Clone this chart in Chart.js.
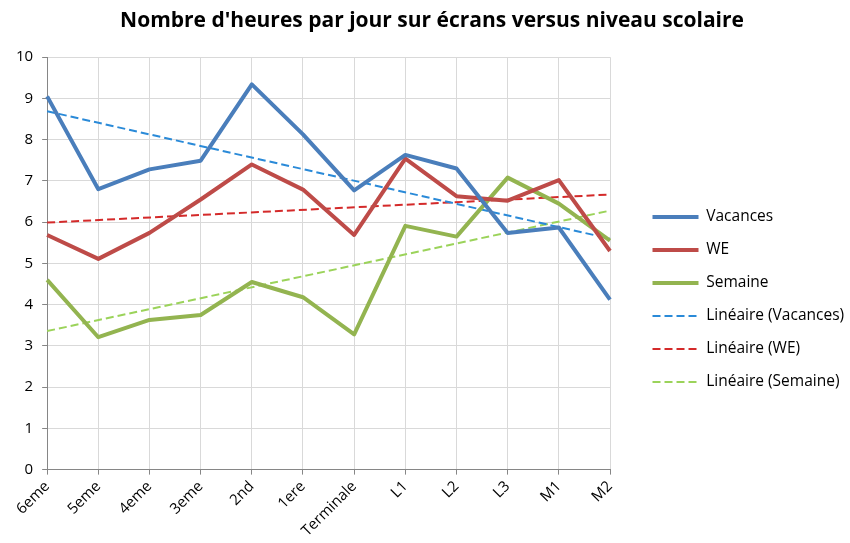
<!DOCTYPE html>
<html>
<head>
<meta charset="utf-8">
<script src="https://cdn.jsdelivr.net/npm/chart.js@4"></script>
<style>
  body { margin: 0; background: #fff; }
  #wrap { width: 850px; height: 543px; }
</style>
</head>
<body>
<div id="wrap"><canvas id="screenChart"></canvas></div>
<script>
// niveaux scolaires (axe X)
const niveaux = ["6eme", "5eme", "4eme", "3eme", "2nd", "1ere", "Terminale", "L1", "L2", "L3", "M1", "M2"];

// heures par jour
const vacances = [9.05, 6.8, 7.28, 7.49, 9.34, 8.13, 6.77, 7.63, 7.3, 5.74, 5.87, 4.12];
const we = [5.69, 5.11, 5.74, 6.55, 7.4, 6.79, 5.69, 7.54, 6.63, 6.52, 7.02, 5.3];
const semaine = [4.6, 3.21, 3.63, 3.75, 4.55, 4.18, 3.28, 5.91, 5.65, 7.08, 6.45, 5.55];

// courbes de tendance : valeur au début (6eme) et à la fin (M2)
const tendVacances = [8.69, 5.6];
const tendWe = [5.99, 6.67];
const tendSemaine = [3.36, 6.28];

// ligne droite entre les deux extrémités, null au milieu
function trendData(ends) {
    return niveaux.map((n, i) => i === 0 ? ends[0] : (i === niveaux.length - 1 ? ends[1] : null));
}

// décale la légende et le titre (comme dans Excel)
const boxShift = {
    id: "boxShift",
    afterLayout(chart) {
        const l = chart.legend;
        l.left += 25;
        l.right += 45;   // plus large pour ne pas couper le texte
        l.top += 28;
        l.bottom += 28;
        const t = chart.titleBlock;
        t.left += 23;
        t.right += 23;
    }
};

const ctx = document.getElementById("screenChart").getContext("2d");

new Chart(ctx, {
    type: "line",
    data: {
        labels: niveaux,
        datasets: [
            { label: "Vacances", data: vacances, borderColor: "#4A7EBB", borderWidth: 4 },
            { label: "WE", data: we, borderColor: "#BE4B48", borderWidth: 4 },
            { label: "Semaine", data: semaine, borderColor: "#93B450", borderWidth: 4 },
            { label: "Linéaire (Vacances)", data: trendData(tendVacances), borderColor: "#2A8AD8", borderWidth: 2, borderDash: [8, 4], spanGaps: true },
            { label: "Linéaire (WE)", data: trendData(tendWe), borderColor: "#D42A2A", borderWidth: 2, borderDash: [8, 4], spanGaps: true },
            { label: "Linéaire (Semaine)", data: trendData(tendSemaine), borderColor: "#9BD35A", borderWidth: 2, borderDash: [8, 4], spanGaps: true }
        ]
    },
    plugins: [boxShift],
    options: {
        responsive: true,
        maintainAspectRatio: false,
        animation: false,
        elements: {
            point: { radius: 0, hoverRadius: 0 },
            line: { tension: 0, fill: false, borderJoinStyle: "round" }
        },
        layout: { padding: { left: 7, right: 39, top: 0, bottom: 0 } },
        plugins: {
            title: {
                display: true,
                text: "Nombre d'heures par jour sur écrans versus niveau scolaire",
                color: "#000",
                font: { family: "Open Sans", size: 21, weight: "bold" },
                padding: { top: 8, bottom: 24 }
            },
            legend: {
                position: "right",
                labels: {
                    usePointStyle: true,
                    pointStyle: "line",
                    pointStyleWidth: 46,
                    boxHeight: 4,
                    padding: 17.5,
                    color: "#000",
                    font: { family: "Open Sans", size: 15.5 },
                    // les pointillés ne passent pas dans la légende avec usePointStyle
                    generateLabels(chart) {
                        const items = Chart.defaults.plugins.legend.labels.generateLabels(chart);
                        items.forEach(item => {
                            item.lineDash = chart.data.datasets[item.datasetIndex].borderDash || [];
                        });
                        return items;
                    }
                }
            },
            tooltip: { enabled: false }
        },
        scales: {
            x: {
                offset: false,
                grid: { color: "#D9D9D9", tickColor: "#868686", tickLength: 5 },
                border: { color: "#868686" },
                ticks: {
                    color: "#000",
                    font: { family: "Open Sans", size: 15 },
                    minRotation: 45,
                    maxRotation: 45,
                    autoSkip: false
                }
            },
            y: {
                min: 0,
                max: 10,
                grid: { color: "#D9D9D9", tickColor: "#868686", tickLength: 5 },
                border: { color: "#868686" },
                ticks: {
                    stepSize: 1,
                    color: "#000",
                    font: { family: "Open Sans", size: 15 },
                    padding: 9
                }
            }
        }
    }
});
</script>
</body>
</html>
